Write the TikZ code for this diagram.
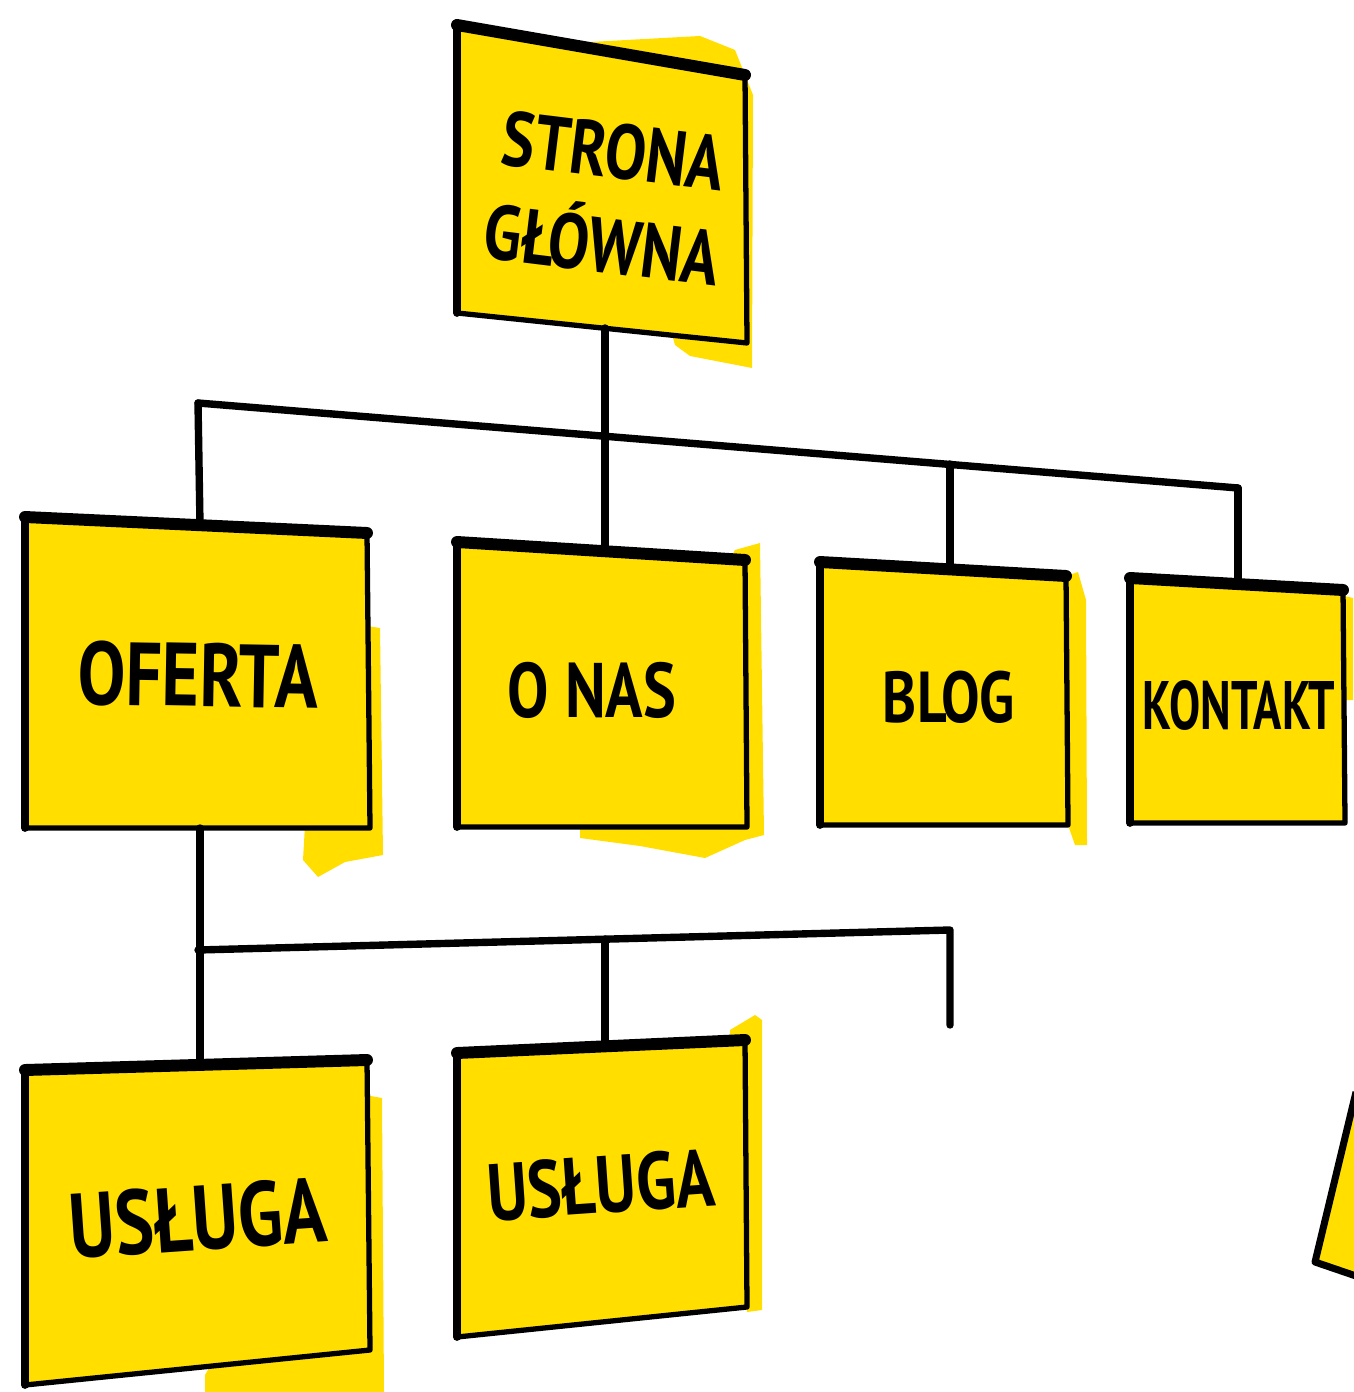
\documentclass[tikz,border=0pt]{standalone}
\usepackage{fontspec}
\setmainfont{PT Sans}
\newfontfamily\signfont[FakeStretch=0.8]{PT Sans}
\newfontfamily\narrowsignfont[FakeStretch=0.68]{PT Sans}
\definecolor{signyellow}{RGB}{255,222,0}

\tikzset{
  board/.style={fill=signyellow, draw=black, line width=1.5pt, line join=round},
  topedge/.style={line width=3.4pt, line cap=round},
  sideedge/.style={line width=2.2pt, line cap=round},
  smudge/.style={fill=signyellow, draw=none},
  wire/.style={line width=2.1pt, line cap=round, line join=round},
  signtext/.style={align=center, inner sep=0pt},
}

% board: top left, top right, bottom right, bottom left
\newcommand{\board}[4]{%
  \filldraw[board] #1 -- #2 -- #3 -- #4 -- cycle;
  \draw[topedge] #1 -- #2;
  \draw[sideedge] #1 -- #4;
}

\begin{document}
\begin{tikzpicture}[x=0.01cm, y=-0.01cm]
\useasboundingbox (0,0) rectangle (1353,1392);

% yellow smudges behind the boards
\fill[smudge] (590,42) -- (700,36) -- (735,50) -- (753,95) -- (752,368) -- (690,356) -- (675,345) -- cycle;
\fill[smudge] (360,625) -- (380,628) -- (383,855) -- (345,862) -- (318,877) -- (303,860) -- (305,825) -- cycle;
\fill[smudge] (735,550) -- (760,543) -- (764,835) -- (745,840) -- (705,858) -- (640,846) -- (580,838) -- (580,825) -- cycle;
\fill[smudge] (1060,578) -- (1078,572) -- (1086,600) -- (1087,845) -- (1075,845) -- (1068,825) -- cycle;
\fill[smudge] (1340,595) -- (1353,598) -- (1353,700) -- (1343,700) -- cycle;
\fill[smudge] (365,1095) -- (382,1098) -- (384,1392) -- (205,1392) -- (205,1375) -- cycle;
\fill[smudge] (730,1030) -- (755,1015) -- (762,1020) -- (762,1310) -- (747,1312) -- cycle;

% boards
\board{(457,25)}{(745,75)}{(747,343)}{(457,313)}
\board{(25,517)}{(367,533)}{(370,828)}{(25,828)}
\board{(457,542)}{(745,560)}{(747,827)}{(457,827)}
\board{(820,562)}{(1066,576)}{(1068,825)}{(820,825)}
\board{(1130,578)}{(1343,590)}{(1345,823)}{(1130,823)}
\board{(25,1070)}{(367,1060)}{(370,1350)}{(25,1385)}
\board{(457,1053)}{(745,1040)}{(747,1307)}{(457,1337)}

% board cut off at the right
\fill[signyellow] (1356,1092) -- (1315,1262) -- (1356,1276) -- cycle;
\draw[line width=2pt, line join=round] (1356,1092) -- (1315,1262) -- (1356,1276);

% texts
\node[signtext, rotate=-7, font=\bfseries\signfont\fontsize{22}{27}\selectfont] (home) at (608,198)
  {STRONA\\GŁÓWNA};
\node[signtext, rotate=-1, font=\bfseries\signfont\fontsize{25.5}{28}\selectfont] (oferta) at (198,675) {OFERTA};
\node[signtext, font=\bfseries\signfont\fontsize{22}{26}\selectfont] (onas) at (592,690) {O NAS};
\node[signtext, font=\bfseries\signfont\fontsize{20.5}{24}\selectfont] (blog) at (949,697) {BLOG};
\node[signtext, font=\bfseries\narrowsignfont\fontsize{19.5}{24}\selectfont] (kontakt) at (1239,705) {KONTAKT};
\node[signtext, rotate=4, font=\bfseries\signfont\fontsize{26}{30}\selectfont] (usluga1) at (198,1218) {USŁUGA};
\node[signtext, rotate=4, font=\bfseries\signfont\fontsize{23}{27}\selectfont] (usluga2) at (601,1185) {USŁUGA};

% connection points
\coordinate (home-b) at (605,328);
\coordinate (onas-t) at (605,551);
\coordinate (oferta-t) at (200,525);
\coordinate (oferta-b) at (200,828);
\coordinate (blog-t) at (950,569);
\coordinate (kontakt-t) at (1238,584);
\coordinate (usluga1-t) at (200,1065);
\coordinate (usluga2-t) at (605,1046);

\coordinate (bar-l) at (198,403);
\coordinate (bar-blog) at (950,464);
\coordinate (bar-r) at (1238,488);
\coordinate (sub-l) at (198,950);
\coordinate (sub-mid) at (605,939);
\coordinate (sub-r) at (950,930);
\coordinate (sub-end) at (950,1025);

% first level
\draw[wire] (home-b) -- (onas-t);
\draw[wire] (bar-l) -- (bar-r);
\draw[wire] (bar-l) -- (oferta-t);
\draw[wire] (bar-blog) -- (blog-t);
\draw[wire] (bar-r) -- (kontakt-t);

% second level
\draw[wire] (oferta-b) -- (usluga1-t);
\draw[wire] (sub-l) -- (sub-r) -- (sub-end);
\draw[wire] (sub-mid) -- (usluga2-t);

\end{tikzpicture}
\end{document}
